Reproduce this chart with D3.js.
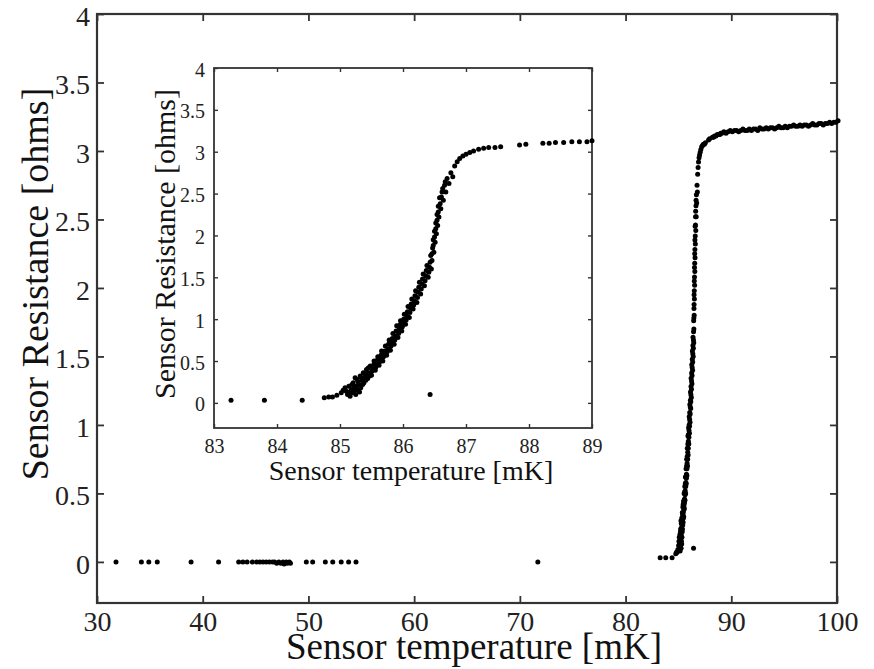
<!DOCTYPE html>
<html>
<head>
<meta charset="utf-8">
<script src="https://cdn.jsdelivr.net/npm/d3@7"></script>
<style>
body { margin: 0; background: #fff; }
svg { display: block; }
</style>
</head>
<body>
<script>
// measured points [temperature mK, resistance ohms]
const zeroPoints = [
  [31.8,0],[34.2,0],[34.9,0],[35.7,0],[38.9,0],[41.5,0],
  [43.4,0],[43.8,0],[44.2,0],[44.7,0],[45.1,0],[45.4,0],[45.7,0],[46.0,0],[46.3,0],[46.6,0],
  [46.8,0],[47.0,-0.01],[47.2,0],[47.4,-0.01],[47.6,0],[47.7,-0.015],[47.9,0],[48.0,-0.01],
  [48.2,0],[48.3,-0.01],
  [49.8,0],[50.4,0],[51.6,0],[52.3,0],[53.1,0],[53.8,0],[54.5,0],
  [71.7,0]
]

const transitionPoints = [
  [83.27,0.03],[83.80,0.03],[84.40,0.03],[84.75,0.06],[84.82,0.07],[84.88,0.07],[84.95,0.09],
  [85.02,0.12],[85.05,0.15],[85.08,0.18],[85.10,0.14],[85.12,0.10],[85.14,0.20],[85.16,0.08],
  [85.18,0.16],[85.20,0.12],[85.21,0.24],[85.23,0.19],[85.25,0.10],[85.27,0.28],[85.28,0.15],
  [85.30,0.22],[85.32,0.32],[85.33,0.18],[85.35,0.27],[85.37,0.36],[85.38,0.24],[85.40,0.31],
  [85.42,0.40],[85.44,0.29],[85.46,0.36],[85.48,0.44],[85.50,0.33],[85.52,0.41],[85.54,0.50],
  [85.56,0.39],[85.58,0.46],[85.60,0.55],[85.62,0.45],[85.64,0.52],[85.66,0.62],[85.68,0.50],
  [85.70,0.58],[85.72,0.68],[85.74,0.57],[85.76,0.64],[85.78,0.75],[85.80,0.63],[85.82,0.72],
  [85.84,0.83],[85.86,0.70],[85.88,0.80],[85.90,0.92],[85.92,0.78],[85.94,0.88],[85.96,0.98],
  [85.98,0.86],[86.00,0.96],[86.02,1.06],[86.04,0.94],[86.06,1.04],[86.08,1.15],[86.10,1.02],
  [86.12,1.13],[86.14,1.24],[86.16,1.12],[86.18,1.22],[86.20,1.34],[86.22,1.20],[86.24,1.32],
  [86.26,1.44],[86.28,1.30],[86.30,1.42],[86.32,1.54],[86.34,1.40],[86.36,1.52],[86.38,1.64],
  [86.40,1.50],[86.42,1.62],[86.44,1.76],[86.45,1.60],[86.46,1.70],[86.47,1.85],[86.48,1.95],
  [86.49,1.80],[86.50,2.05],[86.51,1.92],[86.52,2.15],[86.53,2.02],[86.54,2.25],[86.55,2.12],
  [86.56,2.35],[86.57,2.22],[86.58,2.45],[86.60,2.32],[86.62,2.52],[86.64,2.42],[86.66,2.60],
  [86.68,2.52],[86.70,2.68],[86.73,2.62],[86.76,2.75],[86.79,2.70],[86.82,2.83],[86.86,2.88],
  [86.90,2.92],[86.95,2.95],[87.00,2.97],[87.06,2.99],[87.12,3.01],[87.20,3.03],[87.28,3.04],
  [87.36,3.05],[87.46,3.05],[87.55,3.06],[87.85,3.08],[87.95,3.09],[88.22,3.10],[88.32,3.10],
  [88.42,3.11],[88.55,3.11],[88.68,3.12],[88.80,3.12],[88.92,3.12],[89.00,3.13],
  [86.43,0.10]
]

// middle of the scattered band in the transition
const transitionBandPoints = [
  [85.15,0.13],[85.19,0.22],[85.22,0.15],[85.24,0.30],[85.26,0.20],[85.29,0.25],[85.31,0.13],
  [85.34,0.30],[85.36,0.22],[85.39,0.35],[85.41,0.27],[85.43,0.34],[85.45,0.42],[85.47,0.32],
  [85.51,0.38],[85.53,0.45],[85.57,0.43],[85.59,0.51],[85.63,0.49],[85.65,0.57],[85.69,0.55],
  [85.71,0.62],[85.75,0.61],[85.77,0.70],[85.81,0.68],[85.83,0.77],[85.87,0.75],[85.89,0.86],
  [85.93,0.83],[85.95,0.93],[85.99,0.91],[86.01,1.00],[86.05,0.99],[86.07,1.09],[86.11,1.08],
  [86.13,1.18],[86.17,1.17],[86.19,1.28],[86.23,1.26],[86.25,1.38],[86.29,1.36],[86.31,1.48],
  [86.35,1.46],[86.37,1.58],[86.41,1.56],[86.43,1.68],[86.46,1.78],[86.48,1.88],[86.50,1.98],
  [86.52,2.08],[86.54,2.18],[86.56,2.28],[86.59,2.38],[86.61,2.46],[86.63,2.56],[86.67,2.64]
]

const plateauPoints = [
  [89.1,3.13],[89.3,3.14],[89.5,3.13],[89.7,3.14],[89.9,3.15],[90.1,3.14],[90.3,3.15],[90.5,3.15],
  [90.7,3.14],[90.9,3.15],[91.1,3.16],[91.3,3.15],[91.5,3.15],[91.7,3.16],[91.9,3.15],[92.1,3.16],
  [92.3,3.16],[92.5,3.15],[92.7,3.17],[92.9,3.16],[93.1,3.16],[93.3,3.17],[93.5,3.16],[93.7,3.17],
  [93.9,3.17],[94.1,3.16],[94.3,3.17],[94.5,3.18],[94.7,3.17],[94.9,3.17],[95.1,3.18],[95.3,3.17],
  [95.5,3.18],[95.7,3.18],[95.9,3.19],[96.1,3.18],[96.3,3.18],[96.5,3.19],[96.7,3.18],[96.9,3.19],
  [97.1,3.19],[97.3,3.18],[97.5,3.19],[97.7,3.20],[97.9,3.19],[98.1,3.19],[98.3,3.20],[98.5,3.20],
  [98.7,3.19],[98.9,3.20],[99.1,3.20],[99.3,3.21],[99.5,3.20],[99.7,3.21],[99.9,3.21],[100.1,3.22]
]

const mainXTicks = [30, 40, 50, 60, 70, 80, 90, 100]
const insetXTicks = [83, 84, 85, 86, 87, 88, 89]
const yTicks = [0, 0.5, 1, 1.5, 2, 2.5, 3, 3.5, 4]

const allPoints = zeroPoints.concat(transitionPoints, transitionBandPoints, plateauPoints)

const width = 874
const height = 669
const serif = '"Liberation Serif", "Times New Roman", serif'

const svg = d3.select('body').append('svg')
  .attr('width', width)
  .attr('height', height)

// scales
const xMain = d3.scaleLinear().domain([30, 100]).range([97, 837])
const yMain = d3.scaleLinear().domain([-0.3, 4]).range([603, 14])
const xInset = d3.scaleLinear().domain([83, 89]).range([214, 592])
const yInset = d3.scaleLinear().domain([-0.3, 4]).range([428, 68])

// box with inward ticks on all four sides (matlab style)
const drawFrame = (x, y, o) => {
  const [x0, x1] = x.range()
  const [y0, y1] = y.range()
  const g = svg.append('g')

  g.append('rect')
    .attr('x', x0).attr('y', y1)
    .attr('width', x1 - x0).attr('height', y0 - y1)
    .attr('fill', '#fff')

  const styleAxis = (sel, size) => {
    sel.attr('font-family', serif).attr('font-size', size)
    sel.select('.domain').remove()
    sel.selectAll('line').attr('stroke', '#333').attr('stroke-width', o.tickWidth)
    sel.selectAll('text').attr('fill', '#222')
  }

  g.append('g').attr('transform', 'translate(0,' + y0 + ')')
    .call(d3.axisBottom(x).tickValues(o.xTicks).tickSizeInner(-o.tick).tickSizeOuter(0)
      .tickPadding(o.xPad).tickFormat(d => String(d)))
    .call(sel => styleAxis(sel, o.xFont))

  g.append('g').attr('transform', 'translate(0,' + y1 + ')')
    .call(d3.axisTop(x).tickValues(o.xTicks).tickSizeInner(-o.tick).tickSizeOuter(0).tickFormat(''))
    .call(sel => styleAxis(sel, o.xFont))

  g.append('g').attr('transform', 'translate(' + x0 + ',0)')
    .call(d3.axisLeft(y).tickValues(yTicks).tickSizeInner(-o.tick).tickSizeOuter(0)
      .tickPadding(o.yPad).tickFormat(d => String(d)))
    .call(sel => styleAxis(sel, o.yFont))
    .call(sel => sel.selectAll('text').attr('dy', '0.4em'))

  g.append('g').attr('transform', 'translate(' + x1 + ',0)')
    .call(d3.axisRight(y).tickValues(yTicks).tickSizeInner(-o.tick).tickSizeOuter(0).tickFormat(''))
    .call(sel => styleAxis(sel, o.yFont))

  g.append('rect')
    .attr('x', x0).attr('y', y1)
    .attr('width', x1 - x0).attr('height', y0 - y1)
    .attr('fill', 'none')
    .attr('stroke', '#333')
    .attr('stroke-width', o.frameWidth)

  return g
}

// main plot
drawFrame(xMain, yMain, {
  xTicks: mainXTicks, tick: 7, xPad: 8, yPad: 7,
  xFont: 28, yFont: 28, tickWidth: 1.8, frameWidth: 2.2
})

svg.append('g').selectAll('circle')
  .data(allPoints)
  .enter()
  .append('circle')
  .attr('cx', d => xMain(d[0]))
  .attr('cy', d => yMain(d[1]))
  .attr('r', 2.5)
  .attr('fill', '#000')

svg.append('text')
  .attr('x', 474).attr('y', 659)
  .attr('text-anchor', 'middle')
  .attr('font-family', serif).attr('font-size', 37)
  .attr('fill', '#111')
  .text('Sensor temperature [mK]')

svg.append('text')
  .attr('transform', 'translate(48,284) rotate(-90)')
  .attr('text-anchor', 'middle')
  .attr('font-family', serif).attr('font-size', 38)
  .attr('fill', '#111')
  .text('Sensor Resistance [ohms]')

// inset plot
drawFrame(xInset, yInset, {
  xTicks: insetXTicks, tick: 4, xPad: 11, yPad: 9,
  xFont: 20, yFont: 20, tickWidth: 1.4, frameWidth: 1.8
})

svg.append('g').selectAll('circle')
  .data(allPoints.filter(d => d[0] >= 82.9 && d[0] <= 89.05))
  .enter()
  .append('circle')
  .attr('cx', d => xInset(d[0]))
  .attr('cy', d => yInset(d[1]))
  .attr('r', 2.5)
  .attr('fill', '#000')

svg.append('text')
  .attr('x', 411).attr('y', 480)
  .attr('text-anchor', 'middle')
  .attr('font-family', serif).attr('font-size', 28)
  .attr('fill', '#111')
  .text('Sensor temperature [mK]')

svg.append('text')
  .attr('transform', 'translate(175,244) rotate(-90)')
  .attr('text-anchor', 'middle')
  .attr('font-family', serif).attr('font-size', 30)
  .attr('fill', '#111')
  .text('Sensor Resistance [ohms]')
</script>
</body>
</html>
